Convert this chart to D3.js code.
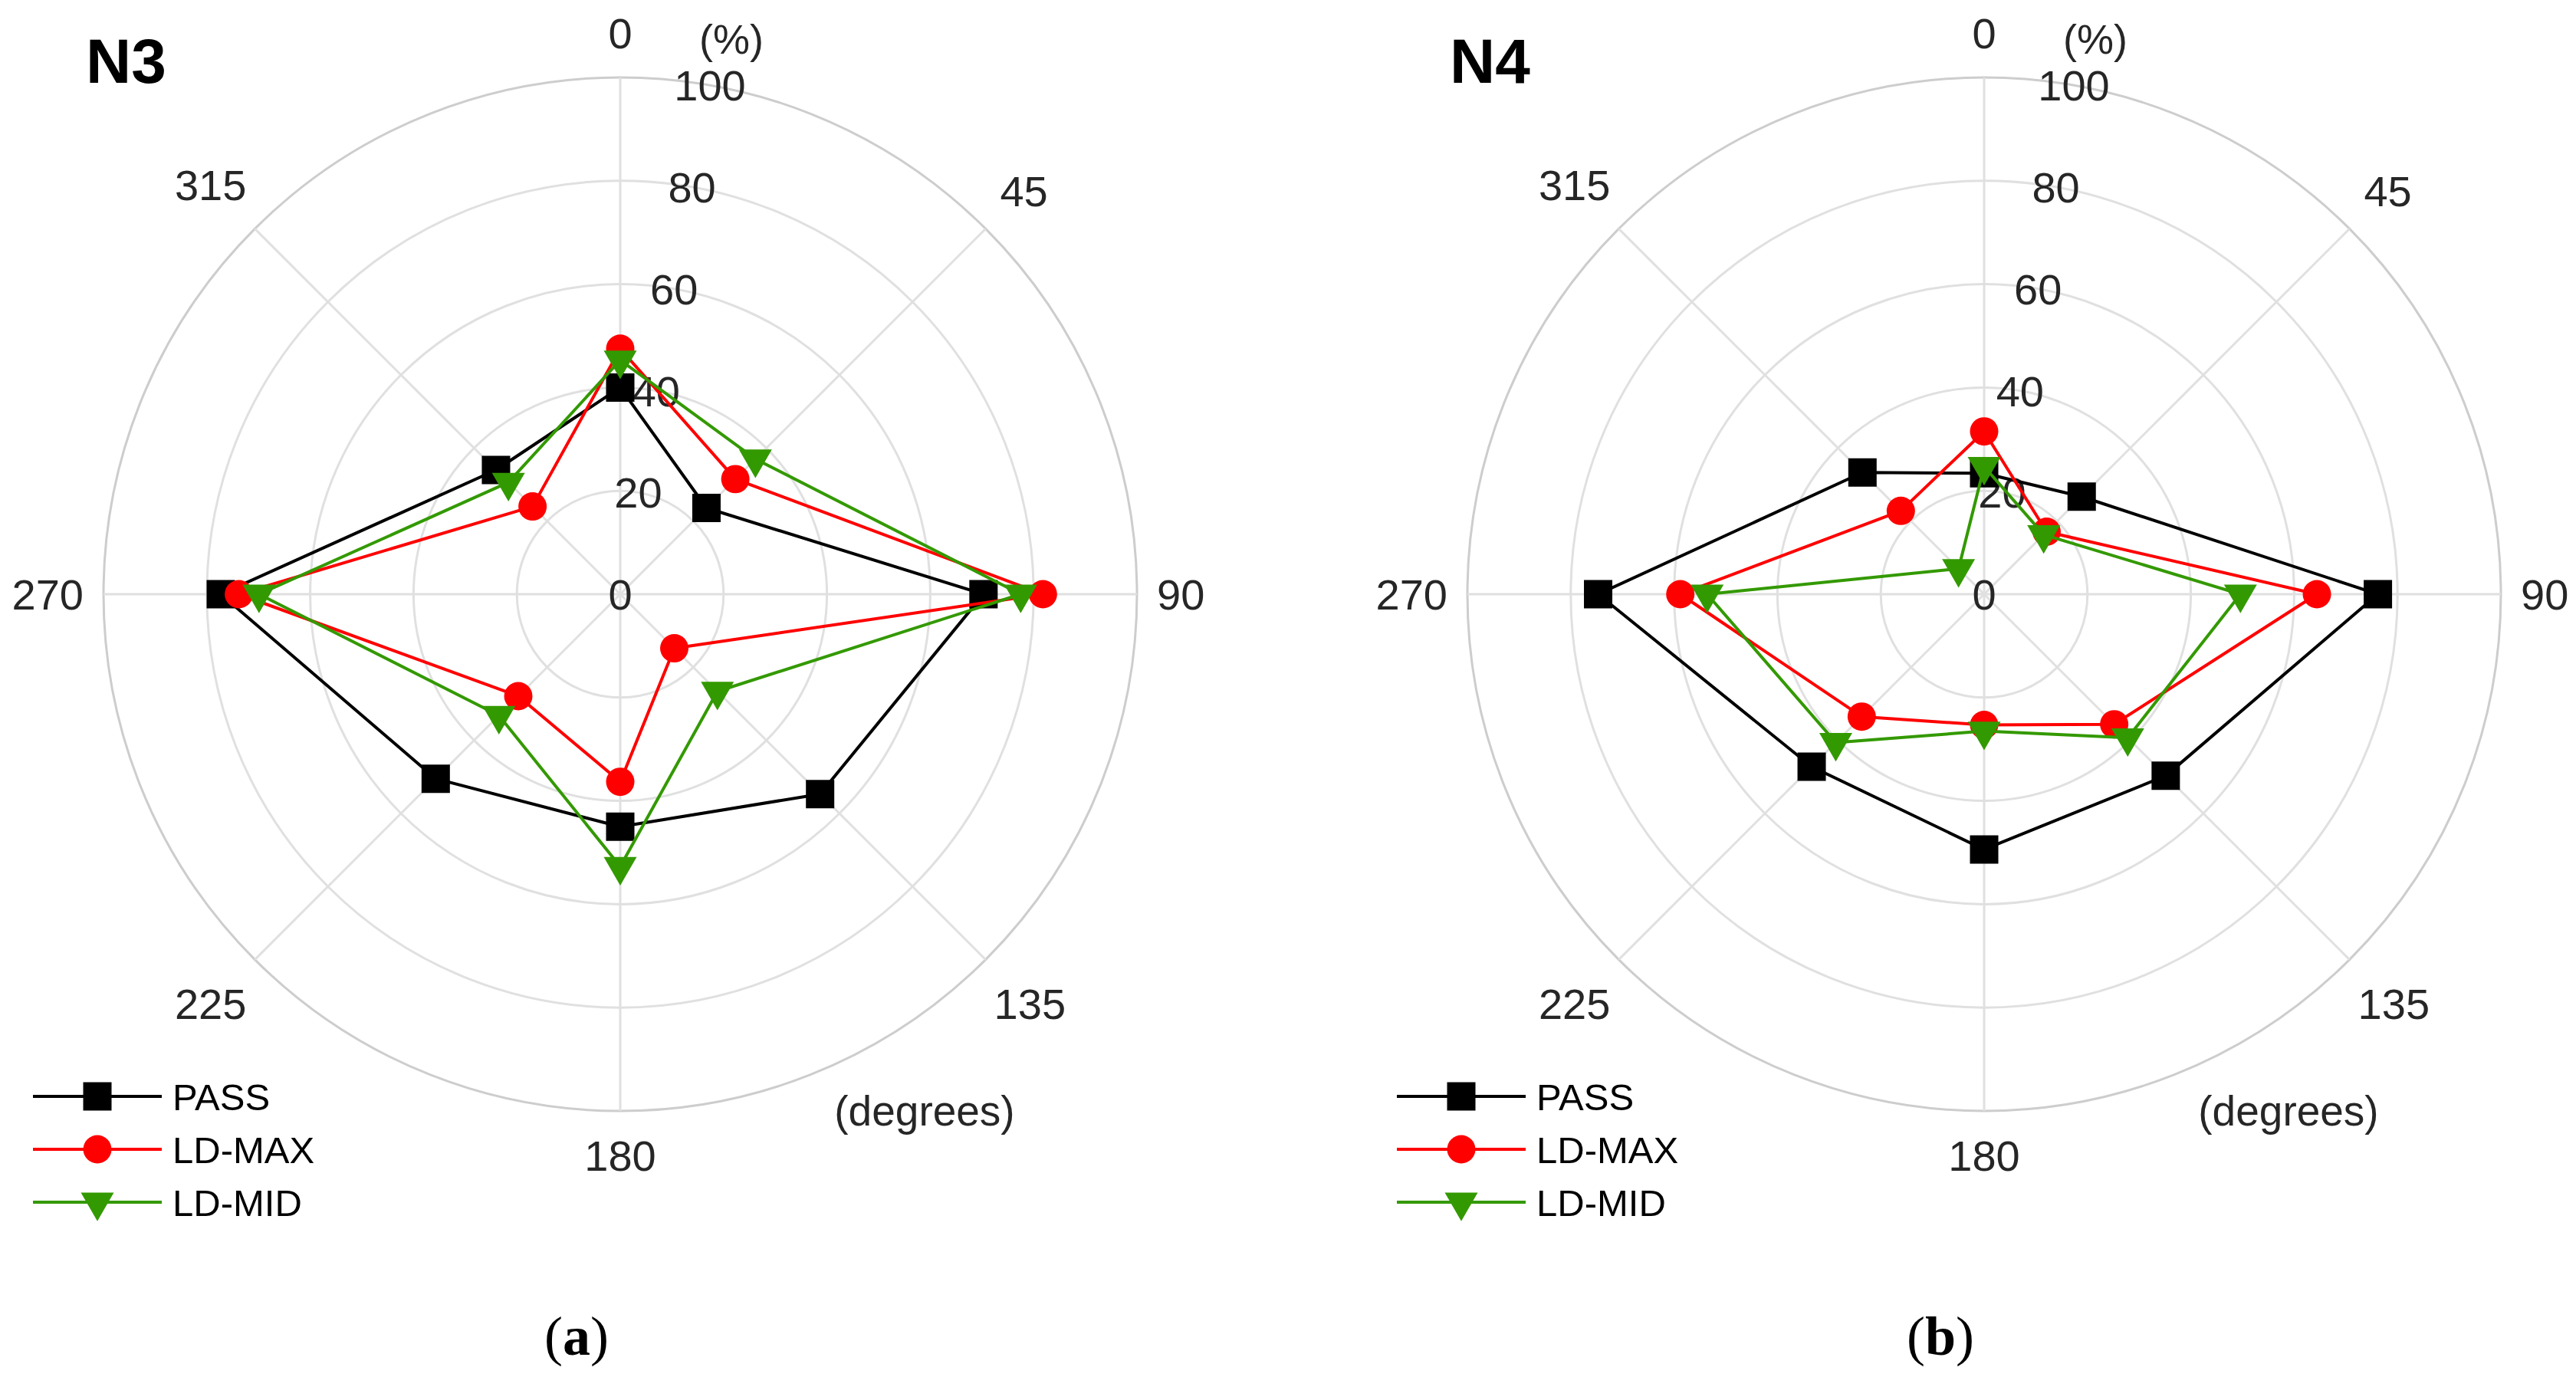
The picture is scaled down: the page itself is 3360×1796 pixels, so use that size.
<!DOCTYPE html>
<html>
<head>
<meta charset="utf-8">
<script src="https://cdn.jsdelivr.net/npm/d3@7"></script>
<style>
  body { margin: 0; background: #fff; }
  svg { display: block; }
</style>
</head>
<body>
<script>
// chart size
var w = 3360;
var h = 1796;

// data: direction (degrees) and value (%)
var angles = [0, 45, 90, 135, 180, 225, 270, 315];
var rTicks = [0, 20, 40, 60, 80, 100];
var seriesNames = ["PASS", "LD-MAX", "LD-MID"];

var n3Pass = [40, 23.6, 70.3, 54.7, 45, 50.5, 77.3, 34];
var n3Max  = [47.5, 31.5, 81.8, 14.8, 36.3, 27.9, 73.8, 24];
var n3Mid  = [45.3, 37, 77.5, 26.6, 52.7, 33.2, 69.9, 30.6];

var n4Pass = [23.4, 26.7, 76.2, 49.7, 49.4, 47.2, 74.7, 33.3];
var n4Max  = [31.5, 17.1, 64.4, 35.6, 25.3, 33.5, 58.8, 22.8];
var n4Mid  = [24.7, 16.3, 49.6, 39.3, 26.5, 40.6, 53.6, 7.0];

var panels = [
  { title: "N3", caption: "a", series: [n3Pass, n3Max, n3Mid] },
  { title: "N4", caption: "b", series: [n4Pass, n4Max, n4Mid] }
];

// styles
var colors = ["#000000", "#ff0000", "#339900"];
var tickColor = "#262626";
var R = 674;           // radius of the 100 % ring
var cy = 775;
var centers = [809, 2588];

var rScale = d3.scaleLinear().domain([0, 100]).range([0, R]);
var aScale = d3.scaleLinear().domain([0, 360]).range([0, 2 * Math.PI]);

var symbols = [
  d3.symbol().type(d3.symbolSquare).size(1369),
  d3.symbol().type(d3.symbolCircle).size(1075),
  d3.symbol().type(d3.symbolTriangle).size(800)
];
var symbolRotate = [0, 0, 180];

var svg = d3.select("body")
  .append("svg")
  .attr("width", w)
  .attr("height", h);

svg.append("rect").attr("width", w).attr("height", h).attr("fill", "#fff");

panels.forEach(function(p, pi) {
  var cx = centers[pi];
  var g = svg.append("g").attr("transform", "translate(" + cx + "," + cy + ")");

  // rings
  g.selectAll("circle.ring")
    .data(rTicks.filter(function(d) { return d > 0; }))
    .enter()
    .append("circle")
    .attr("class", "ring")
    .attr("r", function(d) { return rScale(d); })
    .attr("fill", "none")
    .attr("stroke", function(d) { return d === 100 ? "#cdcdcd" : "#e0e0e0"; })
    .attr("stroke-width", 3);

  // spokes
  g.selectAll("line.spoke")
    .data(angles)
    .enter()
    .append("line")
    .attr("class", "spoke")
    .attr("x1", 0).attr("y1", 0)
    .attr("x2", function(d) { return d3.pointRadial(aScale(d), R)[0]; })
    .attr("y2", function(d) { return d3.pointRadial(aScale(d), R)[1]; })
    .attr("stroke", "#e0e0e0")
    .attr("stroke-width", 3);

  // r tick labels along 10 degrees
  g.selectAll("text.rtick")
    .data(rTicks)
    .enter()
    .append("text")
    .attr("class", "rtick")
    .attr("x", function(d) { return d3.pointRadial(aScale(10), rScale(d))[0]; })
    .attr("y", function(d) { return d3.pointRadial(aScale(10), rScale(d))[1]; })
    .attr("dy", "0.36em")
    .attr("text-anchor", "middle")
    .attr("font-family", "Liberation Sans, Arial, sans-serif")
    .attr("font-size", 56)
    .attr("fill", tickColor)
    .text(function(d) { return d; });

  // theta tick labels, placed just outside the outer ring
  g.selectAll("text.ttick")
    .data(angles)
    .enter()
    .append("text")
    .attr("class", "ttick")
    .attr("text-anchor", "middle")
    .attr("dy", "0.36em")
    .attr("font-family", "Liberation Sans, Arial, sans-serif")
    .attr("font-size", 56)
    .attr("fill", tickColor)
    .text(function(d) { return d; })
    .each(function(d) {
      var hw = this.getComputedTextLength() / 2;
      var hh = 32;
      var a = aScale(d);
      var dist = R + 26 + hw * Math.abs(Math.sin(a)) + hh * Math.abs(Math.cos(a));
      var pt = d3.pointRadial(a, dist);
      d3.select(this).attr("x", pt[0]).attr("y", pt[1]);
    });

  // unit labels
  g.append("text")
    .attr("x", 145).attr("y", -705)
    .attr("text-anchor", "middle")
    .attr("font-family", "Liberation Sans, Arial, sans-serif")
    .attr("font-size", 54)
    .attr("fill", tickColor)
    .text("(%)");

  g.append("text")
    .attr("x", 397).attr("y", 693)
    .attr("text-anchor", "middle")
    .attr("font-family", "Liberation Sans, Arial, sans-serif")
    .attr("font-size", 55)
    .attr("fill", tickColor)
    .text("(degrees)");

  // series lines and markers
  p.series.forEach(function(vals, si) {
    var pts = angles.map(function(a, i) { return [a, vals[i]]; });

    var line = d3.lineRadial()
      .angle(function(d) { return aScale(d[0]); })
      .radius(function(d) { return rScale(d[1]); })
      .curve(d3.curveLinearClosed);

    g.append("path")
      .attr("d", line(pts))
      .attr("fill", "none")
      .attr("stroke", colors[si])
      .attr("stroke-width", 4)
      .attr("stroke-linejoin", "round");

    g.selectAll("path.m" + si)
      .data(pts)
      .enter()
      .append("path")
      .attr("class", "m" + si)
      .attr("d", symbols[si])
      .attr("fill", colors[si])
      .attr("transform", function(d) {
        var pt = d3.pointRadial(aScale(d[0]), rScale(d[1]));
        return "translate(" + pt[0] + "," + pt[1] + ") rotate(" + symbolRotate[si] + ")";
      });
  });

  // panel title
  svg.append("text")
    .attr("x", cx - 697).attr("y", cy - 667)
    .attr("font-family", "Liberation Sans, Arial, sans-serif")
    .attr("font-weight", "bold")
    .attr("font-size", 82)
    .attr("fill", "#000")
    .text(p.title);

  // legend
  var lg = svg.append("g").attr("transform", "translate(" + (cx - 766) + ",1430)");
  seriesNames.forEach(function(name, si) {
    var row = lg.append("g").attr("transform", "translate(0," + (si * 69) + ")");
    row.append("line")
      .attr("x1", 0).attr("x2", 168)
      .attr("stroke", colors[si])
      .attr("stroke-width", 4);
    row.append("path")
      .attr("d", symbols[si])
      .attr("fill", colors[si])
      .attr("transform", "translate(84,0) rotate(" + symbolRotate[si] + ")");
    row.append("text")
      .attr("x", 182).attr("y", 0)
      .attr("dy", "0.36em")
      .attr("font-family", "Liberation Sans, Arial, sans-serif")
      .attr("font-size", 49)
      .attr("fill", "#000")
      .text(name);
  });

  // caption
  var cap = svg.append("text")
    .attr("x", cx - 57).attr("y", 1767)
    .attr("text-anchor", "middle")
    .attr("font-family", "Liberation Serif, Times New Roman, serif")
    .attr("font-size", 72)
    .attr("fill", "#000");
  cap.append("tspan").text("(");
  cap.append("tspan").attr("font-weight", "bold").text(p.caption);
  cap.append("tspan").text(")");
});
</script>
</body>
</html>
